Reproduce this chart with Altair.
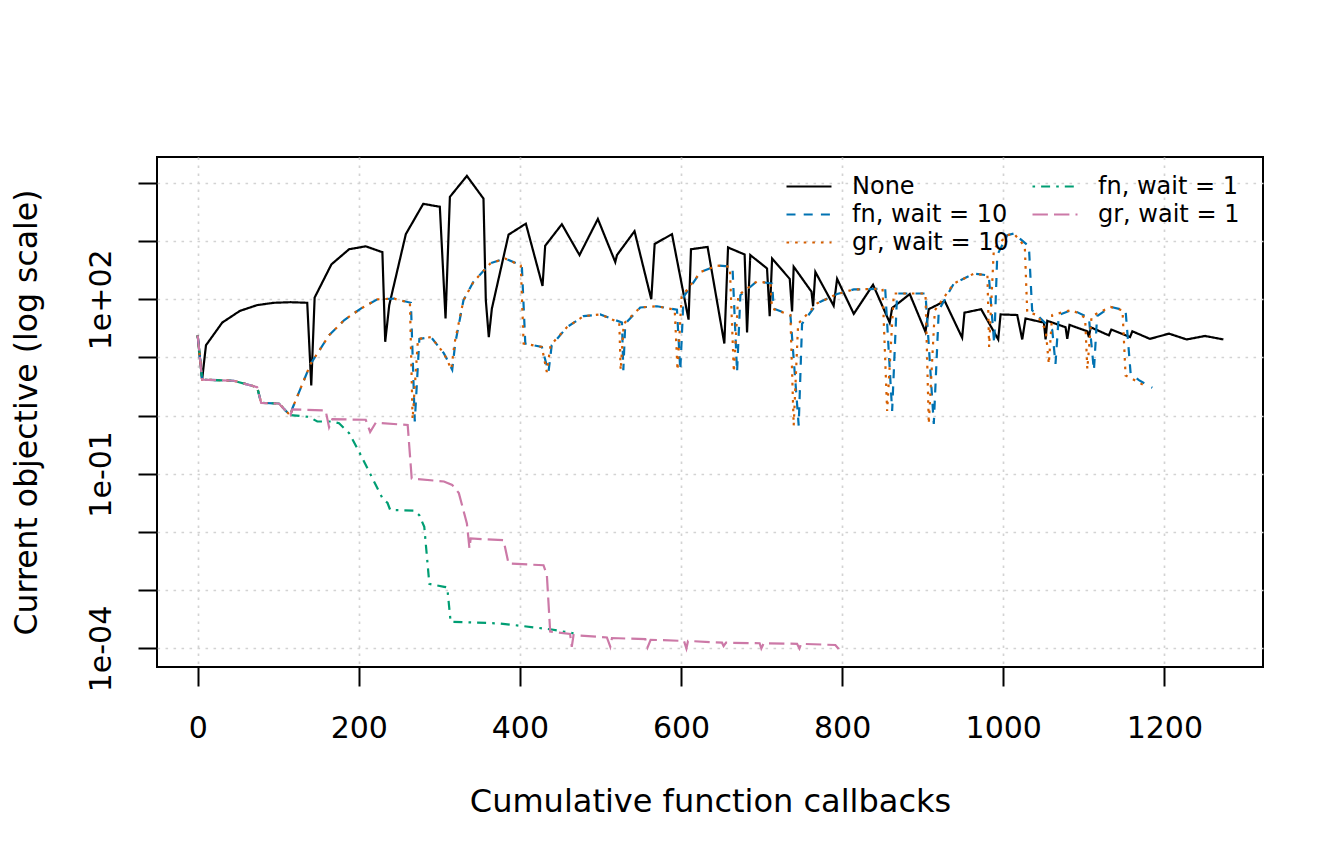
import altair as alt
import pandas as pd

# ---- data (x = cumulative callbacks, log10 of objective) ----
none_x = [0, 5.5, 10.3, 30.5, 52.3, 73.8, 94.6, 115.3, 136, 141, 145.2, 166, 188, 208.6,
          229.3, 232.8, 237.8, 258.4, 280, 300.6, 307.7, 313.1, 334.2, 354.8, 357.7, 361.4,
          365.2, 385.9, 407.4, 428.1, 431.4, 452.1, 474, 496.8, 518.4, 520.5, 542.3, 563.1,
          567.3, 588.8, 609.4, 612.4, 633, 653.8, 658.4, 679, 682, 686, 706.8, 710.1, 713.1,
          735, 737.9, 739.9, 762, 764, 766.8, 789.5, 793.8, 814.5, 838.4, 859.1, 862.1, 884,
          903.5, 907.6, 927.4, 949, 951.9, 972.6, 993.8, 996.7, 1017.4, 1023.6, 1027.7,
          1050.5, 1052.6, 1054.7, 1077.4, 1079.5, 1082.3, 1104.4, 1106.4, 1108.5, 1131.2,
          1134.2, 1157.4, 1160.3, 1182.1, 1205.8, 1227.7, 1250.5, 1273.3]
none_log10 = [1.38, 0.62, 1.21, 1.60, 1.80, 1.90, 1.94, 1.95, 1.94, 0.52, 2.03, 2.60, 2.86,
              2.91, 2.81, 1.27, 1.90, 3.12, 3.64, 3.59, 1.67, 3.76, 4.12, 3.73, 1.98, 1.35,
              1.84, 3.11, 3.30, 2.23, 2.92, 3.29, 2.76, 3.38, 2.64, 2.76, 3.17, 2.00, 2.95,
              3.12, 1.65, 2.86, 2.90, 1.24, 2.89, 2.77, 1.43, 2.76, 2.53, 1.71, 2.70, 2.35,
              1.79, 2.56, 2.13, 1.88, 2.47, 1.89, 2.35, 1.75, 2.25, 1.60, 1.85, 2.09, 1.44,
              1.83, 1.97, 1.34, 1.77, 1.83, 1.31, 1.74, 1.73, 1.31, 1.67, 1.60, 1.31, 1.63,
              1.52, 1.32, 1.56, 1.45, 1.35, 1.52, 1.38, 1.48, 1.35, 1.45, 1.32, 1.41, 1.31,
              1.37, 1.31]

fn10_x = [0, 5.5, 44.8, 73.8, 78.8, 100.8, 109, 115.3, 117.4, 140.2, 163, 181.7, 202.4,
          223.2, 244, 264.7, 269.5, 275.2, 289.7, 305.7, 316, 319.7, 329.9, 342.3, 363.6,
          381.7, 402.4, 406.7, 427.3, 435.5, 439.5, 458.3, 479, 499.7, 526.7, 528.4, 530.8,
          549.4, 570.2, 595, 599.1, 603.2, 624.4, 645.1, 663.9, 669.6, 673.7, 694.4, 713.1,
          715.1, 735.8, 746.1, 750.3, 769, 793.8, 814.5, 853.5, 862.1, 868.3, 903.5, 913.8,
          920, 938.6, 963.5, 982.1, 988.8, 992.6, 1005, 1013.2, 1031.9, 1035.9, 1042.2,
          1060.9, 1064.9, 1069, 1085.7, 1106.4, 1112.6, 1116.6, 1133.2, 1151.9, 1158.2,
          1168.5, 1185.1]
fn10_log10 = [1.38, 0.62, 0.60, 0.49, 0.22, 0.21, 0.09, 0.0, 0.12, 0.89,
              1.38, 1.64, 1.84, 2.00, 2.01, 1.94, -0.10, 1.32, 1.35, 1.07,
              0.79, 1.24, 1.98, 2.30, 2.62, 2.70, 2.58, 1.24, 1.18, 0.75,
              1.21, 1.52, 1.71, 1.74, 1.60, 0.78, 1.58, 1.86, 1.88, 1.82,
              0.78, 2.04, 2.47, 2.58, 2.56, 0.75, 2.07, 2.31, 2.27, 1.84,
              1.73, -0.17, 1.58, 1.93, 2.09, 2.17, 2.18, 0.08, 2.10, 2.10,
              -0.14, 1.81, 2.27, 2.44, 2.41, 1.24, 2.76, 3.10, 3.13, 2.91,
              1.81, 1.73, 1.47, 0.89, 1.73, 1.82, 1.68, 0.78, 1.71, 1.87,
              1.81, 0.72, 0.61, 0.48]

gr10_x = [0, 5.5, 44.8, 73.8, 78.8, 100.8, 109, 115.3, 117.4, 140.2, 163, 181.7, 202.4,
          223.2, 244, 263.5, 266.8, 273.5, 289.7, 305.7, 314.9, 318.8, 329.9, 342.3, 363.6,
          381.7, 401.1, 404.6, 427.3, 433.4, 438.1, 458.3, 479, 499.7, 523.4, 525.1, 528.9,
          549.4, 570.2, 592.2, 595.7, 600.7, 624.4, 645.1, 660.6, 665.6, 671.1, 694.4, 711,
          713, 735.8, 739.9, 745.4, 769, 793.8, 814.5, 850.2, 855.9, 864.2, 903.5, 907.6,
          915.1, 938.6, 963.5, 980.4, 982.5, 988.4, 1005, 1013.2, 1026.8, 1029.8, 1042.2,
          1052.8, 1056.6, 1060.8, 1085.7, 1101.7, 1104.4, 1109.7, 1133.2, 1148.1, 1151.9,
          1164.5, 1178.9]
gr10_log10 = [1.38, 0.62, 0.60, 0.49, 0.22, 0.21, 0.09, 0.0, 0.12, 0.89,
              1.38, 1.64, 1.84, 2.00, 2.01, 1.94, -0.06, 1.32, 1.35, 1.07,
              0.80, 1.24, 1.98, 2.30, 2.62, 2.70, 2.58, 1.24, 1.18, 0.75,
              1.21, 1.52, 1.71, 1.74, 1.60, 0.78, 1.58, 1.86, 1.88, 1.82,
              0.78, 2.04, 2.47, 2.58, 2.56, 0.75, 2.07, 2.31, 2.27, 1.84,
              1.73, -0.17, 1.58, 1.93, 2.09, 2.17, 2.18, 0.08, 2.10, 2.10,
              -0.14, 1.81, 2.27, 2.44, 2.41, 1.18, 2.87, 3.10, 3.13, 2.91,
              1.78, 1.73, 1.47, 0.89, 1.73, 1.82, 1.68, 0.80, 1.71, 1.87,
              1.81, 0.69, 0.60, 0.49]

fn1_x = [0, 5.5, 44.8, 73.8, 78.8, 100.8, 109, 115.3, 138.2, 148.5, 167.2, 175.5, 188,
         200.4, 214.9, 229.4, 235.7, 239, 268.9, 275.1, 281.3, 287.6, 306, 309.8, 314,
         375.5, 400.4, 437.6, 466.6]
fn1_log10 = [1.38, 0.62, 0.60, 0.49, 0.22, 0.21, 0.09, 0.01, -0.02, -0.10, -0.10, -0.13,
             -0.30, -0.62, -1.02, -1.42, -1.50, -1.62, -1.63, -1.71, -1.91, -2.89, -2.94,
             -2.95, -3.54, -3.57, -3.61, -3.67, -3.74]

gr1_x = [0, 5.5, 44.8, 73.8, 78.8, 100.8, 109, 115.3, 117.4, 158.8, 163.1, 167.2, 208.6,
         214.1, 221.1, 260.7, 265.7, 305.7, 316, 324.2, 334.2, 337.4, 338.9, 379.7, 385.9,
         429.3, 433.5, 437.6, 462.3, 464.4, 466.6, 508, 512.2, 514.3, 555.7, 558.5, 562.3,
         603.7, 606.7, 608.7, 650.9, 652.9, 655.9, 697.6, 699.7, 702.6, 744.1, 747, 749.1,
         791.6, 795.8]
gr1_log10 = [1.38, 0.62, 0.60, 0.49, 0.22, 0.21, 0.09, 0.01, 0.11, 0.09,
             -0.20, -0.06, -0.07, -0.28, -0.12, -0.16, -1.08, -1.13, -1.19, -1.33,
             -1.85, -2.28, -2.11, -2.14, -2.54, -2.57, -2.74, -3.71, -3.75, -3.97,
             -3.77, -3.81, -3.97, -3.82, -3.84, -3.98, -3.85, -3.87, -4.00, -3.87,
             -3.90, -3.96, -3.90, -3.91, -4.00, -3.91, -3.92, -4.00, -3.92, -3.94,
             -4.01]

# drawing order and legend order (legend fills column by column: 3 rows x 2 columns)
series_names = ["None", "fn, wait = 10", "gr, wait = 10", "fn, wait = 1", "gr, wait = 1"]
series_colors = ["#000000", "#0072B2", "#D55E00", "#009E73", "#CC79A7"]
series_dashes = [[1, 0], [9, 8.2], [2.6, 6], [2.6, 6, 9, 6.1], [15.4, 6.1]]

x_ticks = [0, 200, 400, 600, 800, 1000, 1200]
y_ticks = [1e-4, 1e-3, 1e-2, 1e-1, 1e0, 1e1, 1e2, 1e3, 1e4]

# ---- table ----
raw = {
    "None": (none_x, none_log10),
    "fn, wait = 10": (fn10_x, fn10_log10),
    "gr, wait = 10": (gr10_x, gr10_log10),
    "fn, wait = 1": (fn1_x, fn1_log10),
    "gr, wait = 1": (gr1_x, gr1_log10),
}
rows = []
idx = 0
for name in series_names:
    xs, ls = raw[name]
    assert len(xs) == len(ls), name
    for xv, lv in zip(xs, ls):
        rows.append({"series": name, "x": xv, "objective": 10 ** lv, "idx": idx})
        idx += 1
df = pd.DataFrame(rows)

FONT = "DejaVu Sans"
PLOT_W, PLOT_H = 1106, 510

legend = alt.Legend(
    title=None, orient="none", legendX=640, legendY=17.5, columns=2,
    symbolType="M-2.25,0H2.25", symbolSize=400, symbolStrokeWidth=2.2,
    labelFont=FONT, labelFontSize=24, labelColor="black", labelOffset=31,
    rowPadding=4, columnPadding=19, padding=0, labelLimit=400,
)

chart = alt.Chart(df).mark_line(strokeWidth=2.2, clip=True).encode(
    x=alt.X("x:Q",
            scale=alt.Scale(domain=[-50.5, 1322.5], nice=False, zero=False),
            axis=alt.Axis(values=x_ticks, format="d", title="Cumulative function callbacks",
                          labelPadding=27, titleX=PLOT_W / 2, titleY=144.7,
                          titleBaseline="alphabetic", titleAlign="center",
                          labelFlush=False, labelOverlap=False)),
    y=alt.Y("objective:Q",
            scale=alt.Scale(type="log", domain=[4.808e-5, 2.786e4], nice=False),
            axis=alt.Axis(values=y_ticks, title="Current objective (log scale)",
                          labelExpr="abs(log(datum.value)/LN10 - 2) < 0.01 ? '1e+02' : "
                                    "abs(log(datum.value)/LN10 + 1) < 0.01 ? '1e-01' : "
                                    "abs(log(datum.value)/LN10 + 4) < 0.01 ? '1e-04' : ''",
                          labelAngle=-90, labelAlign="center", labelBaseline="alphabetic",
                          labelPadding=28, labelOverlap=False, labelFlush=False,
                          titleAngle=270, titleX=-121, titleY=PLOT_H / 2,
                          titleFontSize=31.5,
                          titleAlign="center", titleBaseline="alphabetic")),
    color=alt.Color("series:N",
                    scale=alt.Scale(domain=series_names, range=series_colors),
                    legend=legend),
    strokeDash=alt.StrokeDash("series:N",
                              scale=alt.Scale(domain=series_names, range=series_dashes),
                              legend=legend),
    order=alt.Order("idx:Q"),
).properties(
    width=PLOT_W, height=PLOT_H,
    autosize=alt.AutoSizeParams(type="none"),
    padding={"left": 149, "top": 149, "right": 73, "bottom": 189},
    background="white",
).configure_view(
    stroke="black", strokeWidth=2,
).configure_axis(
    domain=False, ticks=True, tickColor="black", tickWidth=2, tickSize=19,
    labelFont=FONT, labelFontSize=30, labelColor="black",
    titleFont=FONT, titleFontSize=32, titleFontWeight="normal", titleColor="black",
    grid=True, gridColor="#D3D3D3", gridDash=[2.6, 5.4], gridWidth=1.7,
)

chart.save("out.html", embed_options={"renderer": "svg", "actions": False})
